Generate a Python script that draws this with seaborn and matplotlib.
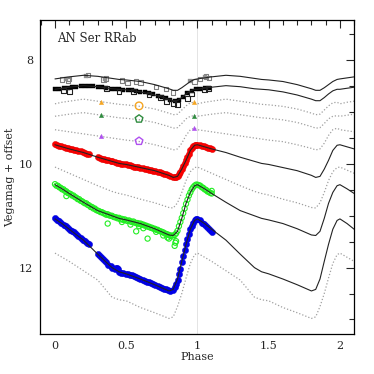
import numpy as np
import pandas as pd
import seaborn as sns
import matplotlib.pyplot as plt
from matplotlib.ticker import MultipleLocator

# template light curves: one cycle, phase 0 -> 0.98 (the cycle repeats every 1.0 in phase)
cyc_phase = [0.00, 0.05, 0.10, 0.20, 0.30, 0.40, 0.45, 0.50, 0.60, 0.70, 0.80, 0.83, 0.86, 0.89, 0.92, 0.95, 0.98]
tpl_c1 = [8.36, 8.34, 8.32, 8.29, 8.31, 8.35, 8.37, 8.38, 8.41, 8.47, 8.55, 8.58, 8.58, 8.53, 8.47, 8.41, 8.37]
tpl_c2 = [8.56, 8.54, 8.52, 8.49, 8.51, 8.55, 8.56, 8.57, 8.61, 8.67, 8.75, 8.78, 8.78, 8.72, 8.65, 8.59, 8.56]
tpl_c3 = [8.84, 8.81, 8.79, 8.75, 8.79, 8.83, 8.85, 8.86, 8.89, 8.94, 9.02, 9.05, 9.04, 8.96, 8.88, 8.82, 8.81]
tpl_c4 = [9.08, 9.06, 9.04, 9.01, 9.05, 9.09, 9.11, 9.12, 9.15, 9.20, 9.28, 9.31, 9.30, 9.22, 9.13, 9.08, 9.07]
tpl_c5 = [9.34, 9.36, 9.38, 9.42, 9.46, 9.50, 9.52, 9.54, 9.57, 9.63, 9.70, 9.73, 9.71, 9.60, 9.45, 9.34, 9.31]
tpl_c6 = [9.63, 9.67, 9.71, 9.78, 9.87, 9.95, 9.99, 10.01, 10.07, 10.13, 10.22, 10.26, 10.24, 10.10, 9.93, 9.74, 9.64]
tpl_c7 = [10.06, 10.12, 10.18, 10.30, 10.42, 10.53, 10.57, 10.60, 10.68, 10.75, 10.84, 10.85, 10.75, 10.55, 10.32, 10.15, 10.07]
tpl_c8 = [10.40, 10.48, 10.57, 10.74, 10.90, 11.00, 11.05, 11.08, 11.15, 11.25, 11.37, 11.38, 11.30, 11.05, 10.76, 10.55, 10.42]
tpl_c9 = [11.06, 11.15, 11.26, 11.47, 11.74, 12.00, 12.08, 12.12, 12.22, 12.33, 12.45, 12.42, 12.22, 11.88, 11.55, 11.26, 11.09]
tpl_c10 = [11.72, 11.80, 11.88, 12.06, 12.24, 12.57, 12.62, 12.64, 12.77, 12.87, 12.98, 12.95, 12.75, 12.50, 12.20, 11.92, 11.75]

solid_curves = [tpl_c1, tpl_c2, tpl_c6, tpl_c8, tpl_c9]
dotted_curves = [tpl_c3, tpl_c4, tpl_c5, tpl_c7, tpl_c10]

# photometry (red and blue share the same sampling)
rb_phase = [0.00, 0.015, 0.03, 0.045, 0.06, 0.075, 0.09, 0.105, 0.12, 0.135, 0.15, 0.165, 0.18, 0.195,
            0.21, 0.225, 0.24,
            0.30, 0.315, 0.33, 0.345, 0.36, 0.375, 0.39, 0.40,
            0.42, 0.435, 0.45, 0.465, 0.48, 0.495, 0.51, 0.525, 0.54, 0.555, 0.57, 0.585, 0.60, 0.615,
            0.63, 0.645, 0.66, 0.675, 0.69, 0.705, 0.72, 0.735, 0.75, 0.765, 0.78, 0.795, 0.81, 0.825,
            0.84, 0.85, 0.86, 0.87, 0.88, 0.89, 0.90, 0.91, 0.92, 0.93, 0.94, 0.95, 0.96, 0.97, 0.98,
            0.99, 1.00, 1.015, 1.03, 1.045, 1.06, 1.075, 1.09, 1.10]
red_mag = [9.62, 9.64, 9.65, 9.66, 9.68, 9.69, 9.70, 9.71, 9.72, 9.73, 9.74, 9.75, 9.76, 9.77,
           9.79, 9.80, 9.81,
           9.87, 9.88, 9.90, 9.91, 9.92, 9.93, 9.94, 9.95,
           9.97, 9.98, 9.99, 10.00, 10.00, 10.01, 10.02, 10.03, 10.04, 10.05, 10.05, 10.06, 10.07, 10.08,
           10.09, 10.10, 10.11, 10.12, 10.13, 10.14, 10.15, 10.16, 10.17, 10.19, 10.20, 10.22, 10.24, 10.25,
           10.26, 10.26, 10.24, 10.20, 10.15, 10.10, 10.04, 9.99, 9.93, 9.86, 9.80, 9.74, 9.69, 9.66, 9.64,
           9.63, 9.63, 9.64, 9.65, 9.66, 9.68, 9.69, 9.70, 9.71]
blue_mag = [11.05, 11.08, 11.11, 11.14, 11.17, 11.20, 11.23, 11.27, 11.29, 11.32, 11.36, 11.39, 11.42, 11.46,
            11.49, 11.52, 11.55,
            11.73, 11.77, 11.82, 11.86, 11.90, 11.94, 11.97, 12.00,
            12.03, 12.00, 12.08, 12.10, 12.10, 12.12, 12.12, 12.14, 12.15, 12.17, 12.18, 12.20, 12.22, 12.23,
            12.25, 12.27, 12.28, 12.30, 12.32, 12.34, 12.35, 12.37, 12.39, 12.41, 12.42, 12.44, 12.45, 12.44,
            12.38, 12.32, 12.23, 12.13, 12.02, 11.90, 11.78, 11.66, 11.55, 11.44, 11.35, 11.26, 11.19, 11.13, 11.09,
            11.07, 11.06, 11.09, 11.13, 11.16, 11.20, 11.24, 11.28, 11.31]
blue_bump_phase = [0.43, 0.44]
blue_bump_mag = [12.00, 12.03]

green_phase = [0.00, 0.01, 0.02, 0.03, 0.04, 0.05, 0.06, 0.07, 0.08, 0.09,
               0.10, 0.11, 0.12, 0.13, 0.14, 0.15, 0.16, 0.17, 0.18, 0.19,
               0.20, 0.21, 0.22, 0.23, 0.24, 0.25, 0.26, 0.27, 0.28, 0.29,
               0.30, 0.31, 0.32, 0.33, 0.34, 0.35, 0.36, 0.37, 0.38, 0.39,
               0.40, 0.41, 0.42, 0.43, 0.44, 0.45, 0.46, 0.47, 0.48, 0.49,
               0.50, 0.51, 0.52, 0.53, 0.54, 0.55, 0.56, 0.57, 0.58, 0.59,
               0.60, 0.61, 0.62, 0.63, 0.64, 0.65, 0.66, 0.67, 0.68, 0.69,
               0.70, 0.71, 0.72, 0.73, 0.74, 0.75, 0.76, 0.77, 0.78, 0.79,
               0.80, 0.81, 0.82, 0.83, 0.84, 0.85, 0.86, 0.87, 0.88, 0.89,
               0.90, 0.91, 0.92, 0.93, 0.94, 0.95, 0.96, 0.97, 0.98, 0.99,
               1.00, 1.01, 1.02, 1.03, 1.04, 1.05, 1.06, 1.07, 1.08, 1.09, 1.10]
green_mag = [10.39, 10.42, 10.42, 10.45, 10.46, 10.49, 10.49, 10.52, 10.53, 10.56,
             10.57, 10.58, 10.61, 10.61, 10.64, 10.65, 10.68, 10.68, 10.71, 10.72,
             10.74, 10.76, 10.76, 10.79, 10.80, 10.83, 10.83, 10.86, 10.86, 10.89,
             10.90, 10.91, 10.93, 10.93, 10.95, 10.96, 10.98, 10.97, 10.99, 11.00,
             11.00, 11.02, 11.03, 11.03, 11.05, 11.04, 11.07, 11.06, 11.08, 11.07,
             11.09, 11.10, 11.09, 11.11, 11.12, 11.11, 11.13, 11.14, 11.14, 11.16,
             11.15, 11.17, 11.17, 11.19, 11.19, 11.21, 11.21, 11.23, 11.23, 11.25,
             11.25, 11.27, 11.27, 11.29, 11.30, 11.31, 11.32, 11.34, 11.35, 11.36,
             11.37, 11.39, 11.38, 11.40, 11.37, 11.34, 11.29, 11.20, 11.12, 11.04,
             10.95, 10.86, 10.77, 10.69, 10.61, 10.55, 10.49, 10.45, 10.42, 10.40,
             10.40, 10.41, 10.42, 10.45, 10.46, 10.49, 10.50, 10.53, 10.54, 10.56, 10.57]
green_out_phase = [0.08, 0.37, 0.47, 0.53, 0.57, 0.59, 0.62, 0.65, 0.71, 0.76, 0.79, 0.80, 0.84, 0.845, 0.85, 1.10]
green_out_mag = [10.62, 11.15, 11.12, 11.17, 11.30, 11.20, 11.24, 11.44, 11.31, 11.38, 11.42, 11.44, 11.58, 11.52, 11.49, 10.52]

blk_phase = [0.00, 0.03, 0.06, 0.09, 0.12, 0.15, 0.18, 0.21, 0.24, 0.27, 0.30, 0.33, 0.36, 0.39,
             0.42, 0.45, 0.48, 0.51, 0.54, 0.57, 0.60, 0.63, 0.66, 0.69, 0.72, 0.75, 0.78, 0.81,
             0.84, 0.87, 0.90, 0.93, 0.96, 0.99, 1.02, 1.05, 1.08]
blk_mag = [8.56, 8.55, 8.54, 8.53, 8.52, 8.51, 8.50, 8.49, 8.49, 8.50, 8.51, 8.52, 8.54, 8.55,
           8.55, 8.56, 8.57, 8.57, 8.58, 8.60, 8.61, 8.62, 8.64, 8.66, 8.68, 8.71, 8.73, 8.76,
           8.78, 8.77, 8.70, 8.64, 8.59, 8.56, 8.55, 8.54, 8.53]
blk_open_phase = [0.06, 0.10, 0.36, 0.45, 0.55, 0.66, 0.74, 0.78, 0.83, 0.86, 0.93, 0.96, 1.05, 1.08]
blk_open_mag = [8.59, 8.60, 8.55, 8.60, 8.60, 8.66, 8.72, 8.80, 8.83, 8.85, 8.73, 8.65, 8.56, 8.55]

gray_phase = [0.05, 0.09, 0.10, 0.23, 0.34, 0.36, 0.47, 0.51, 0.57, 0.60, 0.71, 0.78, 0.83, 0.98, 1.02, 1.06, 1.08]
gray_mag = [8.37, 8.39, 8.36, 8.29, 8.37, 8.35, 8.39, 8.44, 8.41, 8.43, 8.52, 8.56, 8.62, 8.41, 8.36, 8.31, 8.34]
gray_fill_phase = [0.08, 0.22, 0.35, 0.95, 1.05]
gray_fill_mag = [8.36, 8.30, 8.36, 8.40, 8.33]

# sparse points
tri_phase = [0.325, 0.975]
tri_orange = [8.80, 8.80]
tri_green = [9.05, 9.08]
tri_purple = [9.46, 9.31]
pent_phase = [0.59]
circ_orange = [8.88]
pent_green = [9.13]
pent_purple = [9.56]


def tiled(mags):
    # lay the cycle out over phase 0 .. 2.1
    ph, mg = [], []
    for k in range(3):
        for p, m in zip(cyc_phase, mags):
            if p + k <= 2.101:
                ph.append(p + k)
                mg.append(m)
    return pd.DataFrame({"phase": ph, "mag": mg})


sns.set_style("white")
plt.rcParams["font.family"] = ["DejaVu Serif"]

fig = plt.figure(figsize=(3.74, 3.74), dpi=100)
ax = fig.add_axes([0.107, 0.107, 0.840, 0.840])

ax.axvline(1.0, color="#e4e4e4", lw=0.7, zorder=0)

for c in dotted_curves:
    sns.lineplot(data=tiled(c), x="phase", y="mag", sort=False, estimator=None,
                 color="#a0a0a0", lw=0.9, ls=(0, (1, 1.6)), ax=ax, zorder=1)

sns.scatterplot(x=gray_phase, y=gray_mag, marker="s", s=10, facecolor="none",
                edgecolor="#808080", linewidth=0.8, ax=ax, zorder=2)
sns.scatterplot(x=gray_fill_phase, y=gray_fill_mag, marker="s", s=8, color="#909090",
                edgecolor="#909090", ax=ax, zorder=2)
sns.scatterplot(x=blk_phase, y=blk_mag, marker="s", s=6, color="black", edgecolor="black",
                linewidth=0.3, ax=ax, zorder=2)
sns.scatterplot(x=blk_open_phase, y=blk_open_mag, marker="s", s=12, facecolor="none",
                edgecolor="#202020", linewidth=0.8, ax=ax, zorder=2)

sns.scatterplot(x=rb_phase, y=red_mag, marker="o", s=20, color="#ff0000", edgecolor="#e00000",
                linewidth=0.3, ax=ax, zorder=2)
sns.scatterplot(x=rb_phase, y=blue_mag, marker="o", s=20, color="#0000ee", edgecolor="#0000cc",
                linewidth=0.3, ax=ax, zorder=2)
sns.scatterplot(x=blue_bump_phase, y=blue_bump_mag, marker="o", s=20, color="#0000ee", edgecolor="#0000cc",
                linewidth=0.3, ax=ax, zorder=2)
sns.scatterplot(x=green_phase + green_out_phase, y=green_mag + green_out_mag, marker="o", s=14,
                facecolor="none", edgecolor="#22ee22", linewidth=0.8, ax=ax, zorder=2)

sns.scatterplot(x=tri_phase, y=tri_orange, marker="^", s=10, color="#f5a623", edgecolor="#f5a623", ax=ax, zorder=3)
sns.scatterplot(x=tri_phase, y=tri_green, marker="^", s=10, color="#2e8b3e", edgecolor="#2e8b3e", ax=ax, zorder=3)
sns.scatterplot(x=tri_phase, y=tri_purple, marker="^", s=10, color="#b050f0", edgecolor="#b050f0", ax=ax, zorder=3)
sns.scatterplot(x=pent_phase, y=circ_orange, marker="o", s=30, facecolor="none", edgecolor="#f5a623",
                linewidth=1.0, ax=ax, zorder=3)
sns.scatterplot(x=pent_phase, y=pent_green, marker="p", s=34, facecolor="none", edgecolor="#2e8b3e",
                linewidth=1.0, ax=ax, zorder=3)
sns.scatterplot(x=pent_phase, y=pent_purple, marker="p", s=34, facecolor="none", edgecolor="#b050f0",
                linewidth=1.0, ax=ax, zorder=3)

for c in solid_curves:
    sns.lineplot(data=tiled(c), x="phase", y="mag", sort=False, estimator=None,
                 color="#222222", lw=0.8, ax=ax, zorder=4)

ax.set_xlim(-0.105, 2.1)
ax.set_ylim(13.28, 7.22)
ax.xaxis.set_major_locator(MultipleLocator(0.5))
ax.xaxis.set_minor_locator(MultipleLocator(0.1))
ax.yaxis.set_major_locator(MultipleLocator(2))
ax.yaxis.set_minor_locator(MultipleLocator(0.5))
ax.set_xticks([0, 0.5, 1, 1.5, 2])
ax.set_xticklabels(["0", "0.5", "1", "1.5", "2"])
ax.tick_params(which="both", direction="in", top=True, right=True, labelsize=8, width=0.8, pad=5)
ax.tick_params(which="major", length=6)
ax.tick_params(which="minor", length=3.5)
for sp in ax.spines.values():
    sp.set_linewidth(0.9)
    sp.set_color("black")

ax.set_xlabel("Phase", fontsize=8, labelpad=1)
ax.set_ylabel("Vegamag + offset", fontsize=8, labelpad=3)
ax.text(0.055, 0.94, "AN Ser RRab", transform=ax.transAxes, fontsize=8.5, va="center")

fig.savefig("out.png", dpi=100)
